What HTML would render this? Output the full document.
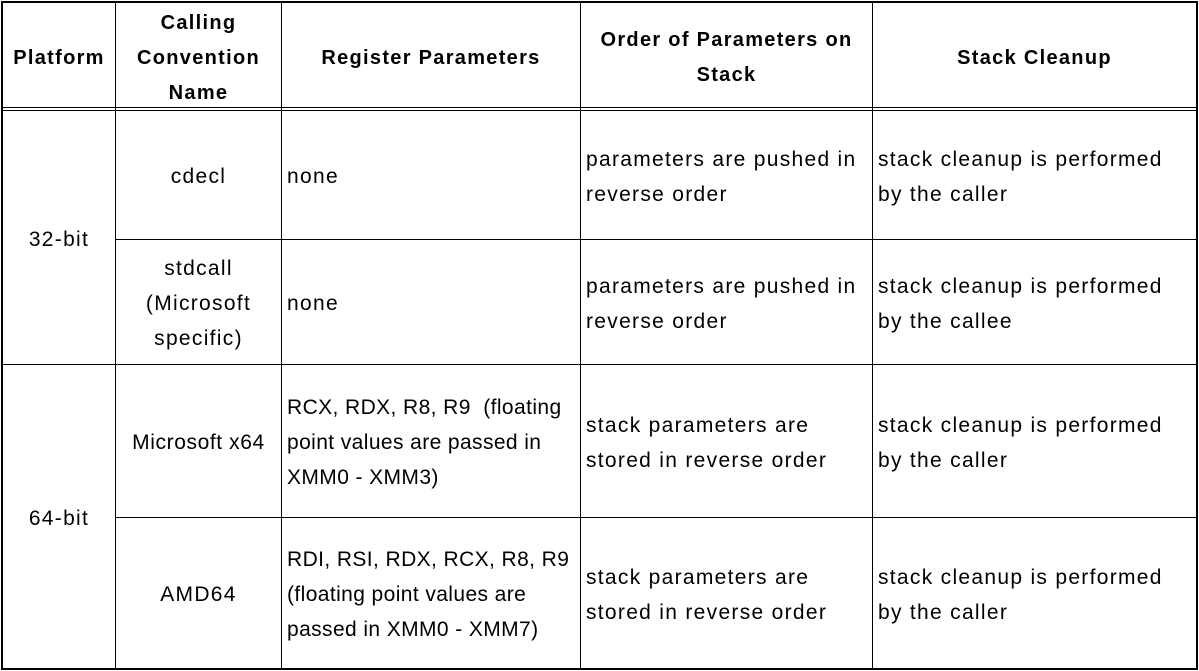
<!DOCTYPE html>
<html><head><style>
body{margin:0;width:1199px;height:671px;background:#fff;position:relative;overflow:hidden;font-family:"Liberation Sans",Arial,sans-serif;color:#000}
.l{position:absolute;background:#000}
.c{position:absolute;display:flex;align-items:center;font-size:21px;letter-spacing:1.3px;line-height:35px;white-space:nowrap;padding-top:3px;box-sizing:border-box}
.c div{width:100%}
.ctr{justify-content:center;text-align:center}
.h{font-weight:bold;font-size:20px;letter-spacing:1.3px;line-height:35px;padding-top:6px}
.left{padding-left:5px}
.reg{letter-spacing:0.4px}
</style></head><body>
<div class="l" style="left:1px;top:1px;width:1197px;height:2px"></div>
<div class="l" style="left:1px;top:668px;width:1197px;height:2px"></div>
<div class="l" style="left:1px;top:1px;width:2px;height:669px"></div>
<div class="l" style="left:1196px;top:1px;width:2px;height:669px"></div>
<div class="l" style="left:1px;top:107px;width:1197px;height:1px"></div>
<div class="l" style="left:1px;top:110px;width:1197px;height:1px"></div>
<div class="l" style="left:115px;top:1px;width:1px;height:669px"></div>
<div class="l" style="left:281px;top:1px;width:1px;height:669px"></div>
<div class="l" style="left:580px;top:1px;width:1px;height:669px"></div>
<div class="l" style="left:872px;top:1px;width:1px;height:669px"></div>
<div class="l" style="left:115px;top:239px;width:1083px;height:1px"></div>
<div class="l" style="left:1px;top:364px;width:1197px;height:1px"></div>
<div class="l" style="left:115px;top:517px;width:1083px;height:1px"></div>

<div class="c ctr h" style="left:3px;top:3px;width:112px;height:104px"><div>Platform</div></div>
<div class="c ctr h" style="left:116px;top:3px;width:165px;height:104px"><div>Calling<br>Convention<br>Name</div></div>
<div class="c ctr h" style="left:282px;top:3px;width:298px;height:104px"><div>Register Parameters</div></div>
<div class="c ctr h" style="left:581px;top:3px;width:291px;height:104px"><div>Order of Parameters on<br>Stack</div></div>
<div class="c ctr h" style="left:873px;top:3px;width:323px;height:104px"><div>Stack Cleanup</div></div>

<div class="c ctr" style="left:3px;top:111px;width:112px;height:253px"><div>32-bit</div></div>
<div class="c ctr" style="left:3px;top:365px;width:112px;height:303px"><div>64-bit</div></div>

<div class="c ctr" style="left:116px;top:111px;width:165px;height:128px"><div>cdecl</div></div>
<div class="c left" style="left:282px;top:111px;width:298px;height:128px"><div>none</div></div>
<div class="c left" style="left:581px;top:111px;width:291px;height:128px"><div>parameters are pushed in<br>reverse order</div></div>
<div class="c left" style="left:873px;top:111px;width:323px;height:128px"><div>stack cleanup is performed<br>by the caller</div></div>

<div class="c ctr" style="left:116px;top:240px;width:165px;height:124px"><div>stdcall<br>(Microsoft<br>specific)</div></div>
<div class="c left" style="left:282px;top:240px;width:298px;height:124px"><div>none</div></div>
<div class="c left" style="left:581px;top:240px;width:291px;height:124px"><div>parameters are pushed in<br>reverse order</div></div>
<div class="c left" style="left:873px;top:240px;width:323px;height:124px"><div>stack cleanup is performed<br>by the callee</div></div>

<div class="c ctr" style="left:116px;top:365px;width:165px;height:152px;letter-spacing:0.6px"><div>Microsoft x64</div></div>
<div class="c left reg" style="left:282px;top:365px;width:298px;height:152px"><div>RCX, RDX, R8, R9&nbsp; (floating<br>point values are passed in<br>XMM0 - XMM3)</div></div>
<div class="c left" style="left:581px;top:365px;width:291px;height:152px"><div>stack parameters are<br>stored in reverse order</div></div>
<div class="c left" style="left:873px;top:365px;width:323px;height:152px"><div>stack cleanup is performed<br>by the caller</div></div>

<div class="c ctr" style="left:116px;top:518px;width:165px;height:150px"><div>AMD64</div></div>
<div class="c left reg" style="left:282px;top:518px;width:298px;height:150px"><div>RDI, RSI, RDX, RCX, R8, R9<br>(floating point values are<br>passed in XMM0 - XMM7)</div></div>
<div class="c left" style="left:581px;top:518px;width:291px;height:150px"><div>stack parameters are<br>stored in reverse order</div></div>
<div class="c left" style="left:873px;top:518px;width:323px;height:150px"><div>stack cleanup is performed<br>by the caller</div></div>
</body></html>
